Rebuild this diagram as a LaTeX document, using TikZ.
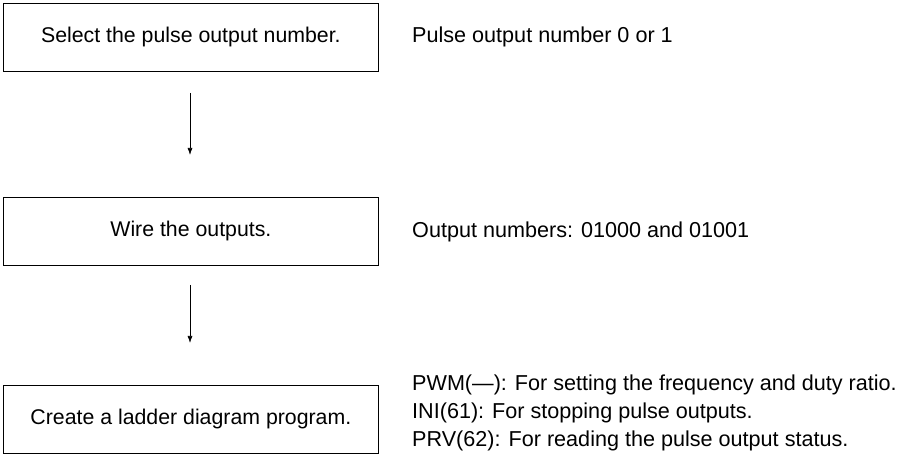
\documentclass[tikz,border=0pt]{standalone}
\usepackage{fontspec}
\setmainfont{Liberation Sans}
\usetikzlibrary{arrows.meta}
\begin{document}
\begin{tikzpicture}[x=1pt,y=-1pt,
  stepbox/.style={draw,line width=0.8pt,minimum width=375pt,minimum height=68pt,anchor=north west,inner sep=0pt,font=\fontsize{21.3}{25}\selectfont},
  note/.style={anchor=west,inner sep=0pt,font=\fontsize{21.6}{25}\selectfont},
  arr/.style={-{Latex[length=7pt,width=5pt]},line width=0.7pt}]
\useasboundingbox (0,0) rectangle (914,454);
\node[stepbox] (b1) at (3,3) {Select the pulse output number.};
\node[stepbox] (b2) at (3,197) {Wire the outputs.};
\node[stepbox] (b3) at (3,385) {Create a ladder diagram program.};
\coordinate (a1s) at (190,93); \coordinate (a1e) at (190,155);
\coordinate (a2s) at (190,285); \coordinate (a2e) at (190,343);
\draw[arr] (a1s) -- (a1e);
\draw[arr] (a2s) -- (a2e);
\node[note] (t1) at (412,37) {Pulse output number 0 or 1};
\node[note] (t2) at (412,232) {Output numbers: 01000 and 01001};
\node[note] (t3) at (412,385) {PWM(—): For setting the frequency and duty ratio.};
\node[note] (t4) at (412,413) {INI(61): For stopping pulse outputs.};
\node[note] (t5) at (412,441) {PRV(62): For reading the pulse output status.};
\end{tikzpicture}
\end{document}
